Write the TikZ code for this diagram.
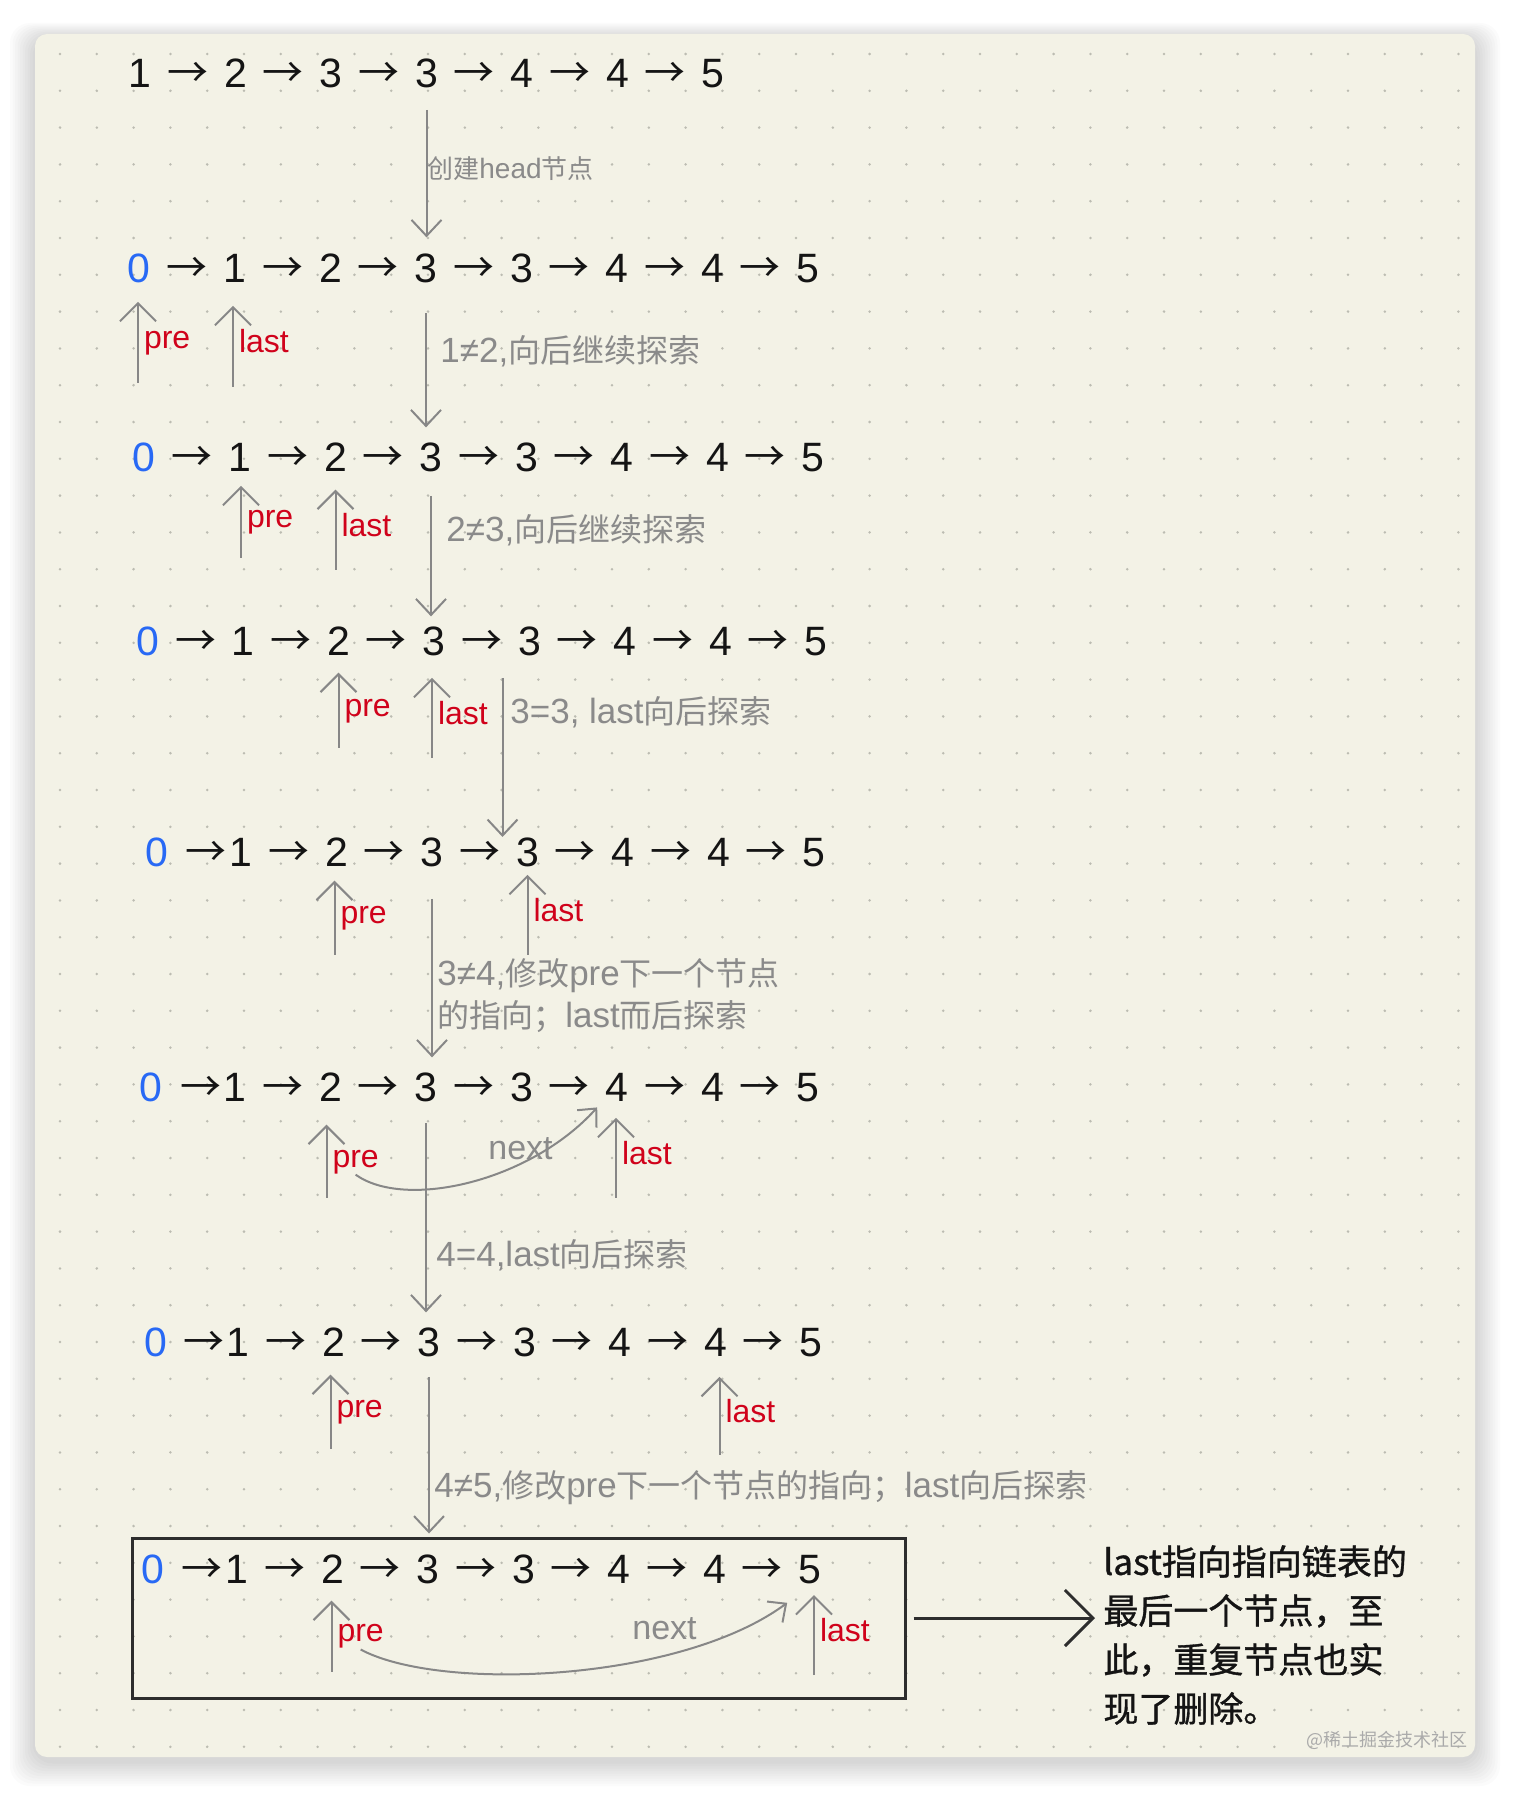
\documentclass[tikz,border=0pt]{standalone}
\usepackage{fontspec}
\usepackage{tikz}
\usetikzlibrary{arrows.meta,calc}
\setmainfont{Liberation Sans}
\newfontfamily\cjk{Noto Sans CJK SC}
\newfontfamily\cjknote[FakeBold=1]{Noto Sans CJK SC}
\newcommand\zh[2][16]{{\cjk\fontsize{#1}{21}\selectfont #2}}

\definecolor{cardbg}{RGB}{243,242,230}
\definecolor{dotgray}{RGB}{188,188,178}
\definecolor{ptrgray}{RGB}{135,135,135}
\definecolor{lblgray}{RGB}{138,138,138}
\definecolor{ptrred}{RGB}{208,2,27}
\definecolor{zeroblue}{RGB}{40,105,245}
\definecolor{numink}{RGB}{20,20,20}
\definecolor{inkdark}{RGB}{45,45,45}
\definecolor{wmgray}{RGB}{170,170,170}

\tikzset{
 num/.style={inner sep=0pt, anchor=base, text=numink, font=\fontsize{20.5}{24}\selectfont},
 link/.style={num, font=\cjk\fontsize{20.5}{24}\selectfont},
 ptr/.style={ptrgray, line width=1pt, -{Straight Barb[length=9pt,width=18pt]}},
 ptrlbl/.style={pos=0.42, anchor=base west, xshift=2.5pt, inner sep=0pt, text=ptrred, font=\fontsize{16}{18}\selectfont},
 stepline/.style={ptrgray, line width=1pt, -{Straight Barb[length=8pt,width=15pt]}},
 steplbl/.style={anchor=west, inner sep=0pt, text=lblgray, align=left, font=\fontsize{17.5}{21}\selectfont},
 nextarrow/.style={ptrgray, line width=1pt, -{Straight Barb[length=7pt,width=13pt]}},
 nextlbl/.style={anchor=west, inner sep=0pt, text=lblgray, font=\fontsize{17}{20}\selectfont},
 bigarrow/.style={inkdark, line width=1.5pt, -{Straight Barb[length=14pt,width=28pt]}},
 note/.style={anchor=west, inner sep=4pt, align=left, text=numink, font=\cjknote\fontsize{17.5}{24.5}\selectfont},
}

% one list 0 -> 1 -> 2 -> 3 -> 3 -> 4 -> 4 -> 5
% #1 name, #2 baseline, #3 x of the 0, #4 x of the 1, #5 place of the first arrow
\newcommand\chainrow[5]{%
 \node [num, text=zeroblue] (#1n0) at (#3,#2) {0};
 \foreach \v [count=\i] in {1,2,3,3,4,4,5}
   \node [num] (#1n\i) at ({#4+95.5*(\i-1)},#2) {\v};
 \node [link] (#1a1) at ($(#1n0.base)!#5!(#1n1.base)$) {→};
 \foreach \i [evaluate=\i as \j using int(\i-1)] in {2,...,7}
   \node [link] (#1a\i) at ($(#1n\j.base)!0.5!(#1n\i.base)$) {→};
}

\begin{document}
\begin{tikzpicture}[x=0.5pt, y=-0.5pt]
\useasboundingbox (0,0) rectangle (1512,1793);
\fill [white] (0,0) rectangle (1512,1793);

% card
\foreach \s in {1,...,10}
  \fill [black, opacity=0.014, rounded corners=10pt]
  ({35-2.5*\s},{34-1.5*\s+4}) rectangle ({1475+2.5*\s},{1757+2.5*\s+4});
\fill [cardbg, rounded corners=6pt] (35,34) rectangle (1475,1757);
\foreach \i in {0,...,38}
  \foreach \j in {0,...,46}
    \fill [dotgray] ({60+36.8*\i},{54+36.8*\j}) circle (0.7pt);
%\draw [help lines] (0,0) grid (1512,1793);

% the lists
\foreach \v [count=\i] in {1,2,3,3,4,4,5}
  \node [num] (r1n\i) at ({140+95.5*(\i-1)},88) {\v};
\foreach \i [evaluate=\i as \j using int(\i-1)] in {2,...,7}
  \node [link] (r1a\i) at ($(r1n\j.base)!0.5!(r1n\i.base)$) {→};

\chainrow{r2}{282}{139}{235}{0.5}
\chainrow{r3}{471}{144}{240}{0.5}
\chainrow{r4}{655}{148}{243}{0.5}
\chainrow{r5}{866}{157}{241}{0.58}
\chainrow{r6}{1101}{151}{235}{0.6}
\chainrow{r7}{1356}{156}{238}{0.58}

\node [draw=inkdark, line width=1.5pt, minimum width=386.5pt, minimum height=80pt, inner sep=0pt]
(final) at (518.5,1618) {};
\chainrow{r8}{1583}{153}{237}{0.58}

% pre / last
\draw [ptr] ($(r2n0)+(-1,115)$) -- node [ptrlbl] (r2pre) {pre} ($(r2n0)+(-1,34)$);
\draw [ptr] ($(r2n1)+(-2,119)$) -- node [ptrlbl] (r2last) {last} ($(r2n1)+(-2,38)$);
\draw [ptr] ($(r3n1)+(1,101)$) -- node [ptrlbl] (r3pre) {pre} ($(r3n1)+(1,29)$);
\draw [ptr] ($(r3n2)+(0,113)$) -- node [ptrlbl] (r3last) {last} ($(r3n2)+(0,33)$);
\draw [ptr] ($(r4n2)+(0,107)$) -- node [ptrlbl] (r4pre) {pre} ($(r4n2)+(0,32)$);
\draw [ptr] ($(r4n3)+(-2,117)$) -- node [ptrlbl] (r4last) {last} ($(r4n3)+(-2,37)$);
\draw [ptr] ($(r5n2)+(-2,103)$) -- node [ptrlbl] (r5pre) {pre} ($(r5n2)+(-2,29)$);
\draw [ptr] ($(r5n4)+(0,103)$) -- node [ptrlbl] (r5last) {last} ($(r5n4)+(0,23)$);
\draw [ptr] ($(r6n2)+(-4,111)$) -- node [ptrlbl] (r6pre) {pre} ($(r6n2)+(-4,38)$);
\draw [ptr] ($(r6n5)+(-1,111)$) -- node [ptrlbl] (r6last) {last} ($(r6n5)+(-1,31)$);
\draw [ptr] ($(r7n2)+(-3,107)$) -- node [ptrlbl] (r7pre) {pre} ($(r7n2)+(-3,33)$);
\draw [ptr] ($(r7n6)+(4,113)$) -- node [ptrlbl] (r7last) {last} ($(r7n6)+(4,35)$);
\draw [ptr] ($(r8n2)+(-1,103)$) -- node [ptrlbl] (r8pre) {pre} ($(r8n2)+(-1,32)$);
\draw [ptr] ($(r8n7)+(4,106)$) -- node [ptrlbl] (r8last) {last} ($(r8n7)+(4,26)$);

% next
\draw [nextarrow] (r6pre.south) .. controls (405,1210) and (530,1182) .. ($(r6n5.south west)+(-8,6)$);
\node [nextlbl] (r6next) at (488,1149) {next};
\draw [nextarrow] (r8pre.south) .. controls (440,1692) and (680,1682) .. ($(r8n7.south west)+(-11,19)$);
\node [nextlbl] (r8next) at (632,1629) {next};

% steps
\draw [stepline, shorten <=10.5pt, shorten >=7.8pt] (r1n4.south) -- (r1n4.south |- r2n3.north);
\draw [stepline, shorten <=15pt, shorten >=7.3pt] (r2n3.south) -- (r2n3.south |- r3n3.north);
\draw [stepline, shorten <=12pt, shorten >=4.8pt] (r3n3.south) -- (r3n3.south |- r4n3.north);
\coordinate (d4) at ([xshift=-13.5pt]r4n4.south);
\draw [stepline, shorten <=11pt] (d4) -- (d4 |- r5n4.north);
\draw [stepline, shorten <=16pt, shorten >=7.3pt] (r5n3.south) -- (r5n3.south |- r6n3.north);
\draw [stepline, shorten <=10.5pt, shorten >=7.3pt] (r6n3.south) -- (r6n3.south |- r7n3.north);
\draw [stepline, shorten <=10pt, shorten >=1.5pt] (r7n3.south) -- (r7n3.south |- final.north);

\node [steplbl, font=\fontsize{14}{16}\selectfont] (s1) at (427,169) {\zh[13]{创建}head\zh[13]{节点}};
\node [steplbl] (s2) at (440,351) {1≠2,\zh{向后继续探索}};
\node [steplbl] (s3) at (446,530) {2≠3,\zh{向后继续探索}};
\node [steplbl] (s4) at (510,712) {3=3, last\zh{向后探索}};
\node [steplbl] (s5) at (437,996) {3≠4,\zh{修改}pre\zh{下一个节点}\\\zh{的指向；}last\zh{而后探索}};
\node [steplbl] (s6) at (436,1255) {4=4,last\zh{向后探索}};
\node [steplbl] (s7) at (434,1488) {4≠5,\zh{修改}pre\zh{下一个节点的指向；}last\zh{向后探索}};

% result
\node [note] (note) at (1095,1635) {last指向指向链表的\\最后一个节点，至\\此，重复节点也实\\现了删除。};
\draw [bigarrow] ([xshift=3.5pt]final.east) -- (note.west |- final.east);

\node [anchor=east, inner sep=0pt, text=wmgray, font=\cjk\fontsize{9}{11}\selectfont] (wm) at (1468,1740) {@稀土掘金技术社区};

\end{tikzpicture}
\end{document}
